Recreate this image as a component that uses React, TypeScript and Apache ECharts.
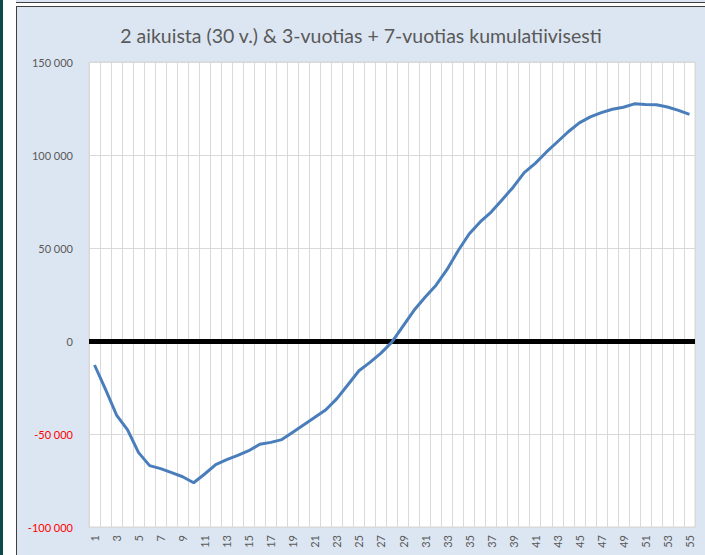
import React, { useEffect, useRef } from "react";
import * as echarts from "echarts";

const titleText = "2 aikuista (30 v.) & 3-vuotias + 7-vuotias kumulatiivisesti";

const categories = [
  "1", "2", "3", "4", "5", "6", "7", "8", "9", "10",
  "11", "12", "13", "14", "15", "16", "17", "18", "19", "20",
  "21", "22", "23", "24", "25", "26", "27", "28", "29", "30",
  "31", "32", "33", "34", "35", "36", "37", "38", "39", "40",
  "41", "42", "43", "44", "45", "46", "47", "48", "49", "50",
  "51", "52", "53", "54", "55",
];

const cumulative = [
  -12900, -26000, -39800, -47800, -60000, -67000, -68600, -70800, -73000, -76200,
  -71500, -66500, -63800, -61500, -59000, -55500, -54500, -53000, -49000, -45000,
  -41000, -37000, -31000, -23500, -16000, -11500, -6500, -500, 8000, 16500,
  23500, 30000, 38500, 48500, 57500, 64000, 69300, 76000, 82700, 90500,
  95500, 101500, 107000, 112500, 117300, 120500, 122800, 124600, 125700, 127500,
  127200, 127000, 125800, 124000, 121800,
];

const yMin = -100000;
const yMax = 150000;
const yStep = 50000;

function fmt(v: number): string {
  const s = String(Math.abs(v)).replace(/\B(?=(\d{3})+(?!\d))/g, " ");
  return (v < 0 ? "-" : "") + s;
}

export default function App() {
  const ref = useRef<HTMLDivElement>(null);
  useEffect(() => {
    if (!ref.current) return;
    const chart = echarts.init(ref.current, null, { renderer: "svg" });
    chart.setOption({
      animation: false,
      backgroundColor: "#dce6f2",
      title: {
        text: titleText,
        left: "center",
        top: 13,
        textStyle: {
          fontFamily: "Lato",
          fontSize: 19.5,
          fontWeight: "normal",
          color: "#595959",
        },
      },
      grid: {
        left: 72,
        top: 55,
        right: 10,
        bottom: 28,
        show: true,
        backgroundColor: "#ffffff",
        borderColor: "#d9d9d9",
        borderWidth: 1,
      },
      xAxis: {
        type: "category",
        data: categories,
        boundaryGap: true,
        axisLine: { show: true, onZero: false, lineStyle: { color: "#d9d9d9", width: 1 } },
        axisTick: { show: false },
        splitLine: { show: true, interval: 0, lineStyle: { color: "#d9d9d9", width: 1 } },
        axisLabel: {
          interval: 1,
          rotate: 90,
          margin: 8,
          fontFamily: "Lato",
          fontSize: 11,
          color: "#595959",
        },
      },
      yAxis: {
        type: "value",
        min: yMin,
        max: yMax,
        interval: yStep,
        axisLine: { show: false },
        axisTick: { show: false },
        splitLine: { show: true, lineStyle: { color: "#d9d9d9", width: 1 } },
        axisLabel: {
          margin: 16,
          fontFamily: "Lato",
          fontSize: 11,
          color: (v: any) => (Number(v) < 0 ? "#ff0000" : "#595959"),
          formatter: (v: number) => fmt(v),
        },
      },
      series: [
        {
          type: "line",
          data: cumulative,
          showSymbol: false,
          symbol: "none",
          lineStyle: { color: "#4a7ebb", width: 3 },
          itemStyle: { color: "#4a7ebb" },
          z: 3,
          markLine: {
            silent: true,
            symbol: "none",
            label: { show: false },
            lineStyle: { color: "#000000", width: 5, type: "solid" },
            data: [{ yAxis: 0 }],
            z: 2,
          },
        },
      ],
    });
    return () => chart.dispose();
  }, []);

  return (
    <div
      style={{
        position: "fixed",
        left: 0,
        top: 0,
        width: 705,
        height: 555,
        background: "#ffffff",
        overflow: "hidden",
      }}
    >
      <div style={{ position: "absolute", left: 0, top: 0, width: 3, height: 555, background: "#0e4a48" }} />
      <div style={{ position: "absolute", left: 16, top: 0, width: 700, height: 2, background: "#dce6f2", borderBottom: "1px solid #404040" }} />
      <div
        style={{
          position: "absolute",
          left: 16,
          top: 6,
          width: 700,
          height: 560,
          borderTop: "1px solid #404040",
          borderLeft: "1px solid #404040",
          background: "#dce6f2",
        }}
      >
        <div ref={ref} style={{ position: "absolute", left: 0, top: 0, width: 688, height: 548 }} />
      </div>
    </div>
  );
}
